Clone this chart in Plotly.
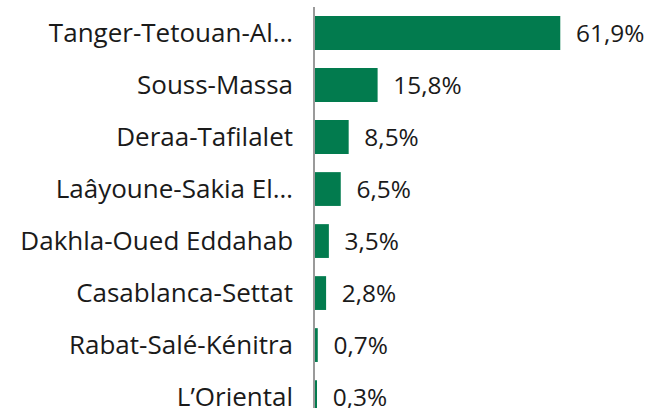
import plotly.graph_objects as go

regions = ["Tanger-Tetouan-Al…", "Souss-Massa", "Deraa-Tafilalet", "Laâyoune-Sakia El…",
           "Dakhla-Oued Eddahab", "Casablanca-Settat", "Rabat-Salé-Kénitra", "L’Oriental"]
shares = [61.9, 15.8, 8.5, 6.5, 3.5, 2.8, 0.7, 0.3]

labels = ["  " + f"{v:.1f}%".replace(".", ",") for v in shares]

FONT = "Open Sans"
FS = 26

fig = go.Figure(go.Bar(
    x=shares, y=list(range(len(regions))), orientation="h",
    marker=dict(color="#027B4E", line=dict(width=0)),
    width=0.65,
    text=labels, textposition="outside", cliponaxis=False,
    textfont=dict(family=FONT, size=FS, color="#1a1a1a"),
    hoverinfo="skip",
))

fig.update_layout(
    width=648, height=408,
    margin=dict(l=315, r=16, t=7, b=0, autoexpand=False),
    plot_bgcolor="white", paper_bgcolor="white",
    showlegend=False,
    font=dict(family=FONT, size=FS, color="#1a1a1a"),
    xaxis=dict(range=[0, 80], visible=False, showgrid=False, zeroline=False, automargin=False),
    yaxis=dict(range=[7.21, -0.5], autorange=False, automargin=False,
               tickmode="array", tickvals=list(range(len(regions))), ticktext=regions,
               showgrid=False, zeroline=False,
               showline=True, linecolor="#9a9a9a", linewidth=1.5,
               ticks="", ticklabelstandoff=15, ticklabeloverflow="allow",
               tickfont=dict(family=FONT, size=FS, color="#1a1a1a")),
)

fig.write_html("out.html", config={"displayModeBar": False},
               post_script="document.body.style.margin='0';document.body.style.padding='0';")
